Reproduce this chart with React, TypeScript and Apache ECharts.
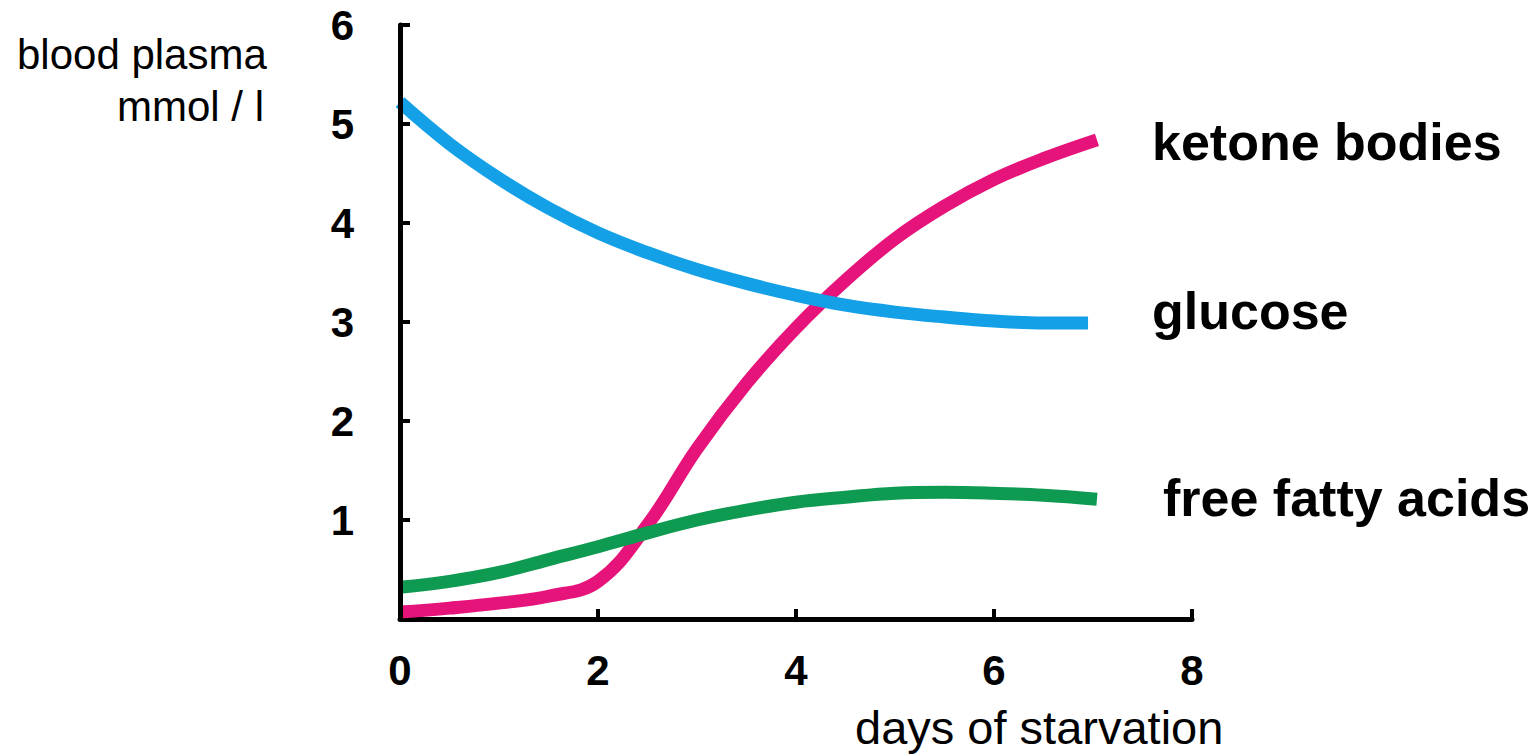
import React, { useEffect, useRef } from "react";
import * as echarts from "echarts";

const FONT = "'Liberation Sans', Arial, Helvetica, sans-serif";

const xTicks = [0, 2, 4, 6, 8];
const yTicks = [0, 1, 2, 3, 4, 5, 6];

const glucose: [number, number][] = [
  [0, 5.22], [0.5, 4.8], [1, 4.45], [1.5, 4.15], [2, 3.9], [2.5, 3.7],
  [3, 3.53], [3.5, 3.39], [4, 3.27], [4.5, 3.17], [5, 3.1], [5.5, 3.05],
  [6, 3.01], [6.5, 2.99], [6.95, 2.99],
];
const ketone: [number, number][] = [
  [0, 0.07], [0.5, 0.11], [1, 0.16], [1.5, 0.23], [2, 0.38],
  [2.5, 0.95], [3, 1.72], [3.5, 2.38], [4, 2.94], [4.5, 3.42], [5, 3.84],
  [5.5, 4.17], [6, 4.44], [6.5, 4.65], [7.04, 4.84],
];
const ffa: [number, number][] = [
  [0, 0.32], [0.5, 0.38], [1, 0.47], [1.5, 0.6], [2, 0.73], [2.5, 0.87],
  [3, 1.0], [3.5, 1.1], [4, 1.18], [4.5, 1.23], [5, 1.27], [5.5, 1.28],
  [6, 1.27], [6.5, 1.25], [7.04, 1.21],
];

const seriesNames = ["ketone bodies", "glucose", "free fatty acids"];
const seriesColors = ["#E5137A", "#14A0E6", "#0E9A50"];

export default function App() {
  const ref = useRef<HTMLDivElement>(null);
  useEffect(() => {
    if (!ref.current) return;
    const chart = echarts.init(ref.current, undefined, { renderer: "svg" });
    const axisCommon = {
      axisLine: { show: true, lineStyle: { color: "#000", width: 5 } },
      axisTick: { show: true, inside: true, length: 10, lineStyle: { color: "#000", width: 4 } },
      splitLine: { show: false },
    };
    chart.setOption({
      animation: false,
      backgroundColor: "#fff",
      grid: { left: 400, top: 25, right: 348, bottom: 137, containLabel: false },
      xAxis: {
        type: "value",
        min: xTicks[0],
        max: xTicks[xTicks.length - 1],
        interval: 2,
        ...axisCommon,
        axisLabel: {
          margin: 30,
          fontFamily: FONT,
          fontWeight: "bold",
          fontSize: 42,
          color: "#000",
        },
      },
      yAxis: {
        type: "value",
        min: yTicks[0],
        max: yTicks[yTicks.length - 1],
        interval: 1,
        z: 5,
        ...axisCommon,
        axisLabel: {
          margin: 46,
          showMinLabel: false,
          fontFamily: FONT,
          fontWeight: "bold",
          fontSize: 42,
          color: "#000",
        },
      },
      series: [ketone, glucose, ffa].map((d, i) => ({
        name: seriesNames[i],
        type: "line",
        data: d,
        smooth: 0.4,
        showSymbol: false,
        symbol: "none",
        lineStyle: { color: seriesColors[i], width: 13, cap: "butt" },
        z: 2,
      })),
      graphic: [
        { type: "text", left: 17, top: 33, style: { text: "blood plasma", font: `42px ${FONT}`, fill: "#000" } },
        { type: "text", left: 117, top: 85, style: { text: "mmol / l", font: `42px ${FONT}`, fill: "#000" } },
        { type: "text", left: 855, top: 704, style: { text: "days of starvation", font: `47px ${FONT}`, fill: "#000" } },
        { type: "text", left: 1152, top: 116, style: { text: seriesNames[0], font: `bold 52px ${FONT}`, fill: "#000" } },
        { type: "text", left: 1152, top: 285, style: { text: seriesNames[1], font: `bold 52px ${FONT}`, fill: "#000" } },
        { type: "text", left: 1163, top: 472, style: { text: seriesNames[2], font: `bold 52px ${FONT}`, fill: "#000" } },
      ],
    });
    return () => chart.dispose();
  }, []);
  return <div ref={ref} style={{ width: 1540, height: 756, position: "absolute", left: 0, top: 0 }} />;
}
